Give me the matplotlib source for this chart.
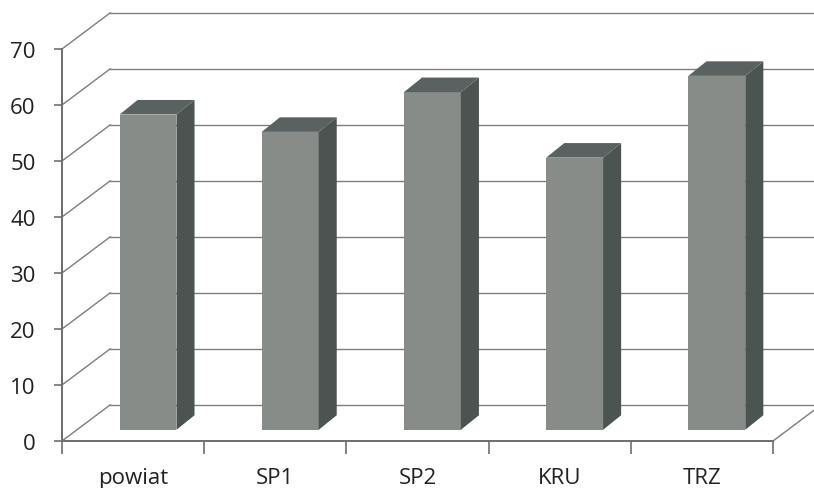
import matplotlib
matplotlib.use("Agg")
import matplotlib.pyplot as plt

# Values
categories = ["powiat", "SP1", "SP2", "KRU", "TRZ"]
values = [56.3, 53.2, 60.3, 48.6, 63.2]
y_ticks = [0, 10, 20, 30, 40, 50, 60, 70]

# Fake 3D depth, in data units
depth_x = 0.3375
depth_y = 6.43
bar_width = 0.40
bar_shift_x = 0.105
bar_shift_y = 2.0
side_x = 0.127
side_y = 2.6

GRID = "#7c7c7c"
AXIS = "#6e6e6e"
FRONT = "#878c89"
SIDE = "#4b5451"
TOP = "#596260"

plt.rcParams["font.family"] = ["Open Sans", "DejaVu Sans"]

fig = plt.figure(figsize=(8.14, 4.89), dpi=100, facecolor="white")
ax = fig.add_axes([62 / 814, 47 / 489, 711 / 814, 392 / 489])
ax.set_xlim(0, 5)
ax.set_ylim(0, 70)
ax.patch.set_alpha(0)

# back wall grid and the slanted lines on the left wall
for v in y_ticks:
    ax.plot([0, depth_x], [v, v + depth_y], color=GRID, lw=1.0, clip_on=False, zorder=1)
    ax.plot([depth_x, 5 + depth_x], [v + depth_y, v + depth_y], color=GRID, lw=1.0,
            clip_on=False, zorder=1)
ax.plot([5, 5 + depth_x], [0, depth_y], color=GRID, lw=1.0, clip_on=False, zorder=1)

# bars
for i, v in enumerate(values):
    left = i + 0.5 - bar_width / 2 + bar_shift_x
    right = left + bar_width
    ax.bar(left, v, bar_width, bottom=bar_shift_y, align="edge", color=FRONT,
           clip_on=False, zorder=3)
    top = bar_shift_y + v
    ax.fill([right, right + side_x, right + side_x, right],
            [bar_shift_y, bar_shift_y + side_y, top + side_y, top],
            color=SIDE, lw=0, clip_on=False, zorder=3)
    ax.fill([left, left + side_x, right + side_x, right],
            [top, top + side_y, top + side_y, top],
            color=TOP, lw=0, clip_on=False, zorder=3)

for name in ["top", "right"]:
    ax.spines[name].set_visible(False)
for name in ["left", "bottom"]:
    ax.spines[name].set_color(AXIS)
    ax.spines[name].set_linewidth(1.4)

ax.set_yticks(y_ticks)
ax.set_xticks(range(6))
ax.set_xticklabels([])
ax.tick_params(axis="y", length=6, width=1.2, color=AXIS, labelsize=16, pad=13,
               labelcolor="#222222")
ax.tick_params(axis="x", length=9, width=1.2, color=AXIS)

for i, name in enumerate(categories):
    ax.annotate(name, xy=(i + 0.5, 0), xytext=(0, -18.5), textcoords="offset points",
                ha="center", va="top", fontsize=16, color="#222222", annotation_clip=False)

fig.savefig("out.png", dpi=100)
